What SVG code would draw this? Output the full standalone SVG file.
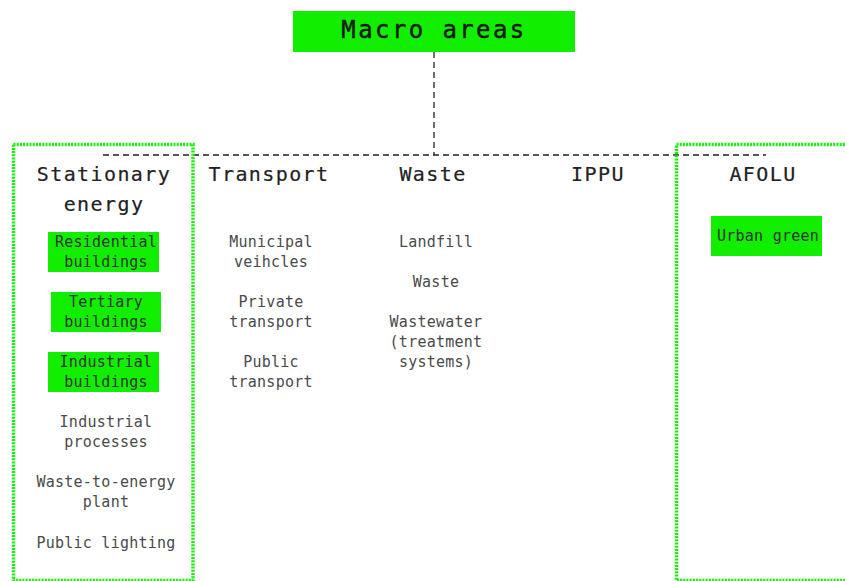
<svg xmlns="http://www.w3.org/2000/svg" width="845" height="581" viewBox="0 0 845 581">
<style>
.bg{fill:#ffffff}
.green{fill:#12ee00}
.grp{fill:none;stroke:#1aee0a;stroke-width:3.5;stroke-dasharray:2 1.2}
.conn{fill:none;stroke:#222;stroke-width:1.3;stroke-dasharray:6 4}
.title{font-family:"DejaVu Sans Mono","Liberation Mono",monospace;font-size:24px;letter-spacing:2.4px;fill:#1a1a1a;stroke:#1a1a1a;stroke-width:0.5;text-anchor:middle}
.head{font-family:"DejaVu Sans Mono","Liberation Mono",monospace;font-size:20px;letter-spacing:1.4px;fill:#222;stroke:#222;stroke-width:0.2;text-anchor:middle}
.item{font-family:"DejaVu Sans Mono","Liberation Mono",monospace;font-size:15px;letter-spacing:0.25px;fill:#4a4a4a;text-anchor:middle}
.item.on{fill:#333}
</style>
<rect class="bg" x="0" y="0" width="845" height="581"/>
<g id="connectors">
<path class="conn" d="M434 52 V155"/>
<path class="conn" d="M103 155 H766"/>
</g>
<g id="macro-areas">
<rect class="green" x="293" y="11" width="282" height="41"/>
<text class="title" x="434" y="38">Macro areas</text>
</g>
<g id="stationary-energy">
<rect class="grp" x="13.5" y="144.5" width="179.5" height="436"/>
<text class="head" x="104" y="181">Stationary</text>
<text class="head" x="104" y="211">energy</text>
<g id="residential">
<rect class="green" x="48" y="232" width="111" height="40"/>
<text class="item on" x="106" y="247">Residential</text>
<text class="item on" x="106" y="267">buildings</text>
</g>
<g id="tertiary">
<rect class="green" x="51" y="292" width="110" height="40"/>
<text class="item on" x="106" y="307">Tertiary</text>
<text class="item on" x="106" y="327">buildings</text>
</g>
<g id="industrial-buildings">
<rect class="green" x="48" y="352" width="111" height="40"/>
<text class="item on" x="106" y="367">Industrial</text>
<text class="item on" x="106" y="387">buildings</text>
</g>
<g id="industrial-processes">
<text class="item" x="106" y="427">Industrial</text>
<text class="item" x="106" y="447">processes</text>
</g>
<g id="waste-to-energy">
<text class="item" x="106" y="487">Waste-to-energy</text>
<text class="item" x="106" y="507">plant</text>
</g>
<g id="public-lighting">
<text class="item" x="106" y="548">Public lighting</text>
</g>
</g>
<g id="transport">
<text class="head" x="269" y="181">Transport</text>
<text class="item" x="271" y="247">Municipal</text>
<text class="item" x="271" y="267">veihcles</text>
<text class="item" x="271" y="307">Private</text>
<text class="item" x="271" y="327">transport</text>
<text class="item" x="271" y="367">Public</text>
<text class="item" x="271" y="387">transport</text>
</g>
<g id="waste">
<text class="head" x="433" y="181">Waste</text>
<text class="item" x="436" y="247">Landfill</text>
<text class="item" x="436" y="287">Waste</text>
<text class="item" x="436" y="327">Wastewater</text>
<text class="item" x="436" y="347">(treatment</text>
<text class="item" x="436" y="367">systems)</text>
</g>
<g id="ippu">
<text class="head" x="598" y="181">IPPU</text>
</g>
<g id="afolu">
<rect class="grp" x="676.5" y="144.5" width="180" height="436"/>
<text class="head" x="763" y="181">AFOLU</text>
<g id="urban-green">
<rect class="green" x="711" y="216" width="111" height="40"/>
<text class="item on" x="768" y="241">Urban green</text>
</g>
</g>
</svg>
